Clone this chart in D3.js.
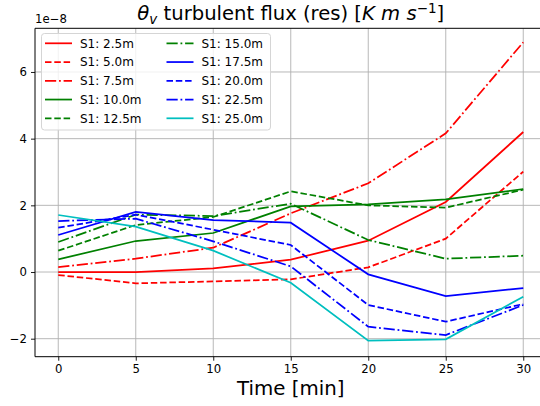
<!DOCTYPE html>
<html>
<head>
<meta charset="utf-8">
<script src="https://cdn.jsdelivr.net/npm/d3@7"></script>
<style>
  body { margin: 0; background: #fff; }
  svg { display: block; font-family: "DejaVu Sans", sans-serif; }
</style>
</head>
<body>
<svg width="540" height="406"></svg>
<script>
    // values are in units of 1e-8 K m s^-1
    const time = [0, 5, 10, 15, 20, 25, 30];
    const s1_2_5 = [0.0, 0.0, 0.11, 0.37, 0.94, 2.1, 4.2];
    const s1_5_0 = [-0.09, -0.34, -0.28, -0.22, 0.14, 1.0, 3.01];
    const s1_7_5 = [0.15, 0.4, 0.73, 1.76, 2.66, 4.16, 6.89];
    const s1_10_0 = [0.38, 0.93, 1.17, 1.97, 2.03, 2.18, 2.49];
    const s1_12_5 = [0.64, 1.41, 1.65, 2.42, 2.0, 1.93, 2.47];
    const s1_15_0 = [0.9, 1.72, 1.68, 2.05, 0.96, 0.4, 0.49];
    const s1_17_5 = [1.11, 1.8, 1.56, 1.48, -0.07, -0.72, -0.48];
    const s1_20_0 = [1.33, 1.72, 1.27, 0.81, -0.99, -1.49, -0.96];
    const s1_22_5 = [1.53, 1.6, 0.92, 0.17, -1.64, -1.89, -0.99];
    const s1_25_0 = [1.71, 1.36, 0.64, -0.32, -2.06, -2.02, -0.74];

    const labels = ['S1: 2.5m', 'S1: 5.0m', 'S1: 7.5m', 'S1: 10.0m', 'S1: 12.5m',
                    'S1: 15.0m', 'S1: 17.5m', 'S1: 20.0m', 'S1: 22.5m', 'S1: 25.0m'];
    const xTicks = [0, 5, 10, 15, 20, 25, 30];
    const yTicks = [-2, 0, 2, 4, 6];

    const series = [s1_2_5, s1_5_0, s1_7_5, s1_10_0, s1_12_5, s1_15_0, s1_17_5, s1_20_0, s1_22_5, s1_25_0];
    const colors = ['#ff0000', '#ff0000', '#ff0000', '#008000', '#008000', '#008000',
                    '#0000ff', '#0000ff', '#0000ff', '#00bfbf'];
    const solid = null, dashed = '6.5,2.8', dashdot = '11.2,2.8,1.8,2.8';
    const dashes = [solid, dashed, dashdot, solid, dashed, dashdot, solid, dashed, dashdot, solid];

    const svg = d3.select('svg');
    const pLeft = 35, pRight = 546.5, pTop = 28.3, pBottom = 356.7;

    const x = d3.scaleLinear().domain([-1.5, 31.5]).range([pLeft, pRight]);
    const y = d3.scaleLinear().domain([-2.54, 7.31]).range([pBottom, pTop]);

    // grid
    const grid = svg.append('g');
    grid.selectAll('.gx').data(xTicks).enter().append('line')
        .attr('x1', d => x(d)).attr('x2', d => x(d))
        .attr('y1', pTop).attr('y2', pBottom)
        .attr('stroke', '#b0b0b0').attr('stroke-width', 0.9);
    grid.selectAll('.gy').data(yTicks).enter().append('line')
        .attr('x1', pLeft).attr('x2', pRight)
        .attr('y1', d => y(d)).attr('y2', d => y(d))
        .attr('stroke', '#b0b0b0').attr('stroke-width', 0.9);

    // lines
    svg.append('clipPath').attr('id', 'clip')
        .append('rect').attr('x', pLeft).attr('y', pTop)
        .attr('width', pRight - pLeft).attr('height', pBottom - pTop);

    const line = d3.line().x((d, i) => x(time[i])).y(d => y(d));

    svg.append('g').attr('clip-path', 'url(#clip)')
        .selectAll('path').data(series).enter().append('path')
        .attr('d', line)
        .attr('fill', 'none')
        .attr('stroke', (d, i) => colors[i])
        .attr('stroke-width', 1.75)
        .attr('stroke-dasharray', (d, i) => dashes[i]);

    // axes
    const xAxis = d3.axisBottom(x).tickValues(xTicks).tickSize(4).tickPadding(4);
    const yAxis = d3.axisLeft(y).tickValues(yTicks).tickSize(4).tickPadding(4)
        .tickFormat(d => d < 0 ? '\u2212' + Math.abs(d) : d);

    svg.append('g').attr('transform', `translate(0,${pBottom})`).call(xAxis)
        .call(g => g.select('.domain').remove());
    svg.append('g').attr('transform', `translate(${pLeft},0)`).call(yAxis)
        .call(g => g.select('.domain').remove());
    svg.selectAll('.tick text').attr('font-size', 11.7).attr('fill', '#000')
        .attr('font-family', '"DejaVu Sans", sans-serif');
    svg.selectAll('.tick line').attr('stroke', '#000').attr('stroke-width', 0.9);

    // spines
    svg.append('line').attr('x1', pLeft).attr('x2', pLeft).attr('y1', pTop).attr('y2', pBottom)
        .attr('stroke', '#000').attr('stroke-width', 1);
    svg.append('line').attr('x1', pLeft).attr('x2', pRight).attr('y1', pBottom).attr('y2', pBottom)
        .attr('stroke', '#000').attr('stroke-width', 1);
    svg.append('line').attr('x1', pLeft).attr('x2', pRight).attr('y1', pTop).attr('y2', pTop)
        .attr('stroke', '#000').attr('stroke-width', 1);

    // offset text
    svg.append('text').attr('x', pLeft).attr('y', 23)
        .attr('font-size', 11.7).text('1e\u22128');

    // title
    const title = svg.append('text').attr('x', (pLeft + pRight) / 2).attr('y', 20)
        .attr('text-anchor', 'middle').attr('font-size', 19.6);
    title.append('tspan').attr('font-style', 'italic').text('\u03b8');
    title.append('tspan').attr('font-style', 'italic').attr('font-size', 13.5).attr('dy', 4).text('v');
    title.append('tspan').attr('dy', -4).text(' turbulent flux (res) [');
    title.append('tspan').attr('font-style', 'italic').text('K m s');
    title.append('tspan').attr('font-size', 13.5).attr('dy', -7).text('\u22121');
    title.append('tspan').attr('dy', 7).text(']');

    // x label
    svg.append('text').attr('x', (pLeft + pRight) / 2).attr('y', 395)
        .attr('text-anchor', 'middle').attr('font-size', 19.8).text('Time [min]');

    // legend
    const legend = svg.append('g');
    legend.append('rect').attr('x', 41.5).attr('y', 33.5).attr('width', 229).attr('height', 96.5)
        .attr('rx', 3).attr('fill', '#fff').attr('fill-opacity', 0.8)
        .attr('stroke', '#d5d5d5').attr('stroke-width', 1);

    const items = legend.selectAll('.item').data(labels).enter().append('g')
        .attr('transform', (d, i) => `translate(${i < 5 ? 45 : 166.5},${43.3 + (i % 5) * 18.75})`);
    items.append('line').attr('x1', 0).attr('x2', 27).attr('y1', 0).attr('y2', 0)
        .attr('stroke', (d, i) => colors[i]).attr('stroke-width', 1.75)
        .attr('stroke-dasharray', (d, i) => dashes[i]);
    items.append('text').attr('x', 35).attr('dy', '0.35em')
        .attr('font-size', 12).text(d => d);
</script>
</body>
</html>
